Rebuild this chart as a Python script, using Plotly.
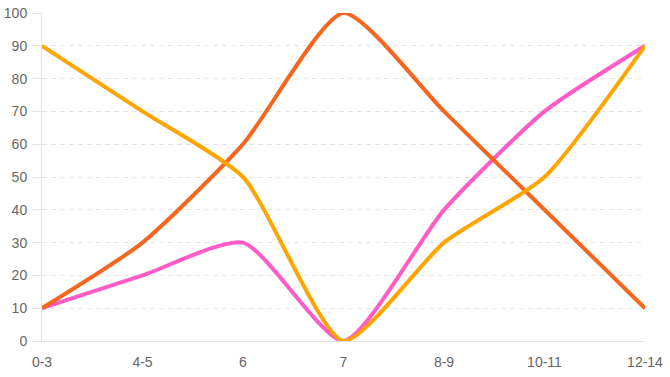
import plotly.graph_objects as go

categories = ["0-3", "4-5", "6", "7", "8-9", "10-11", "12-14"]
series_a = [10, 30, 60, 100, 70, 40, 10]
series_b = [10, 20, 30, 0, 40, 70, 90]
series_c = [90, 70, 50, 0, 30, 50, 90]
y_ticks = list(range(0, 101, 10))

fig = go.Figure()
fig.add_trace(go.Scatter(x=categories, y=series_b, mode="lines",
                         line=dict(color="#ff5cc6", width=4, shape="spline", smoothing=0.6)))
fig.add_trace(go.Scatter(x=categories, y=series_a, mode="lines",
                         line=dict(color="#f5661e", width=4, shape="spline", smoothing=0.6)))
fig.add_trace(go.Scatter(x=categories, y=series_c, mode="lines",
                         line=dict(color="#ffa500", width=4, shape="spline", smoothing=0.6)))

fig.update_layout(
    width=670, height=377,
    margin=dict(l=42, r=25, t=13, b=36, autoexpand=False),
    paper_bgcolor="white", plot_bgcolor="white",
    showlegend=False,
    font=dict(family="Liberation Sans, Arial", size=14, color="#666666"),
)
fig.update_xaxes(
    type="category", range=[0, 6], showgrid=False, automargin=False,
    showline=True, linecolor="#e5e5e5", linewidth=1,
    ticks="", ticklabelstandoff=8, zeroline=False,
)
fig.update_yaxes(
    range=[0, 100], tickvals=y_ticks, showgrid=True, automargin=False,
    gridcolor="#e5e5e5", griddash="5px,4px", gridwidth=1,
    showline=True, linecolor="#e5e5e5", linewidth=1,
    ticks="outside", ticklen=9, tickcolor="#e5e5e5",
    zeroline=False, ticklabelstandoff=2,
)
fig.write_html("out.html", config={"displayModeBar": False},
               post_script="document.body.style.margin='0';document.body.style.overflow='hidden';")
